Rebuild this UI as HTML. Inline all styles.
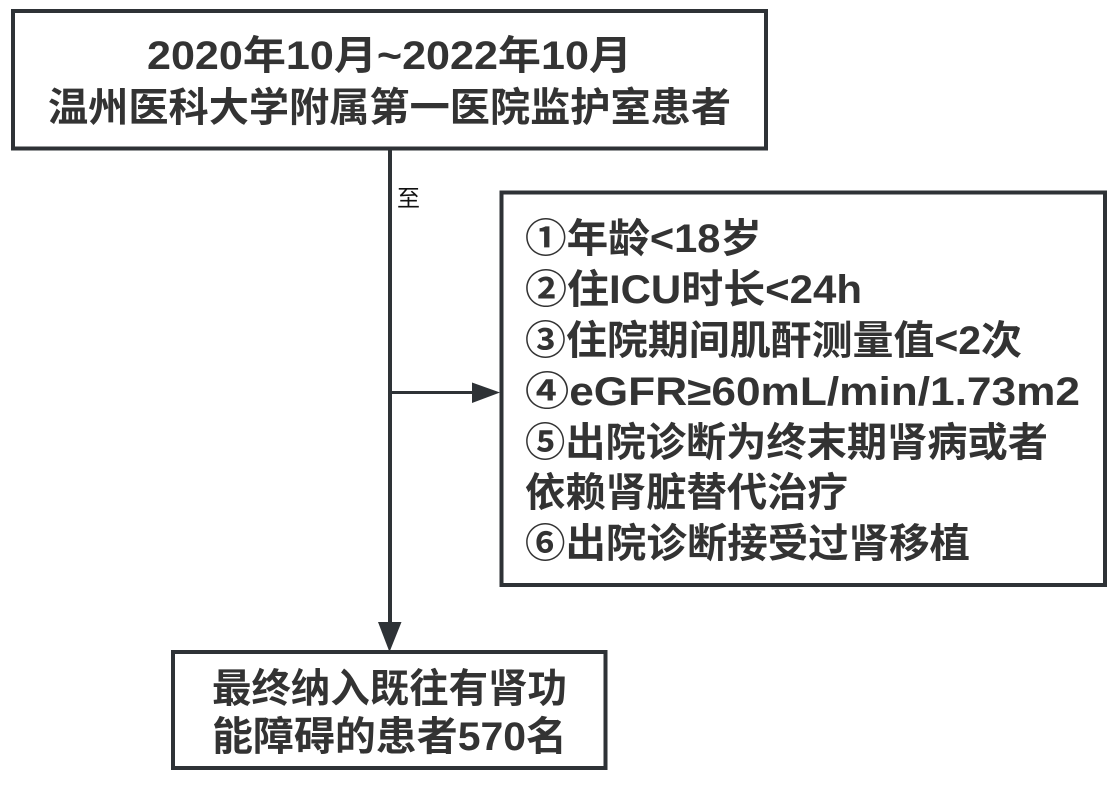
<!DOCTYPE html>
<html>
<head>
<meta charset="utf-8">
<style>
  html, body { margin: 0; padding: 0; background: #ffffff; }
  body { width: 1118px; height: 787px; overflow: hidden; }
  svg { display: block; }
  .t { font-family: "Liberation Sans", "Noto Sans CJK SC", sans-serif; font-weight: bold; font-size: 40px; fill: #333333; }
  .lbl { font-family: "Liberation Sans", "Noto Sans CJK SC", sans-serif; font-size: 23px; fill: #111111; }
</style>
</head>
<body>
<svg width="1118" height="787" viewBox="0 0 1118 787" xmlns="http://www.w3.org/2000/svg">
  <rect x="0" y="0" width="1118" height="787" fill="#ffffff"/>

  <!-- Top box -->
  <rect x="13" y="11" width="753" height="137.5" fill="none" stroke="#2e3236" stroke-width="4"/>
  <text class="t" x="147" y="69" textLength="485" lengthAdjust="spacingAndGlyphs">2020年10月~2022年10月</text>
  <text class="t" x="48" y="121" textLength="683" lengthAdjust="spacingAndGlyphs">温州医科大学附属第一医院监护室患者</text>

  <!-- Vertical connector -->
  <line x1="390" y1="149" x2="390" y2="624" stroke="#2e3236" stroke-width="4"/>
  <polygon points="378,622 401.5,622 389.5,652" fill="#2e3236"/>

  <!-- Label -->
  <text class="lbl" x="397" y="206">至</text>

  <!-- Horizontal connector -->
  <line x1="390" y1="392.5" x2="475" y2="392.5" stroke="#2e3236" stroke-width="3"/>
  <polygon points="472,382.5 472,403 500,392.5" fill="#2e3236"/>

  <!-- Right box -->
  <rect x="501.5" y="192.5" width="603.5" height="392.5" fill="none" stroke="#2e3236" stroke-width="4"/>
  <text class="t" x="525" y="252" textLength="237" lengthAdjust="spacingAndGlyphs">①年龄&lt;18岁</text>
  <text class="t" x="525" y="303" textLength="337" lengthAdjust="spacingAndGlyphs">②住ICU时长&lt;24h</text>
  <text class="t" x="525" y="354" textLength="497" lengthAdjust="spacingAndGlyphs">③住院期间肌酐测量值&lt;2次</text>
  <text class="t" x="525" y="405" textLength="555" lengthAdjust="spacingAndGlyphs">④eGFR≥60mL/min/1.73m2</text>
  <text class="t" x="525" y="456" textLength="523" lengthAdjust="spacingAndGlyphs">⑤出院诊断为终末期肾病或者</text>
  <text class="t" x="525" y="506" textLength="323" lengthAdjust="spacingAndGlyphs">依赖肾脏替代治疗</text>
  <text class="t" x="525" y="557" textLength="445" lengthAdjust="spacingAndGlyphs">⑥出院诊断接受过肾移植</text>

  <!-- Bottom box -->
  <rect x="173" y="652" width="432.5" height="116" fill="none" stroke="#2e3236" stroke-width="4"/>
  <text class="t" x="212" y="702" textLength="355" lengthAdjust="spacingAndGlyphs">最终纳入既往有肾功</text>
  <text class="t" x="212" y="750" textLength="355" lengthAdjust="spacingAndGlyphs">能障碍的患者570名</text>
</svg>
</body>
</html>
